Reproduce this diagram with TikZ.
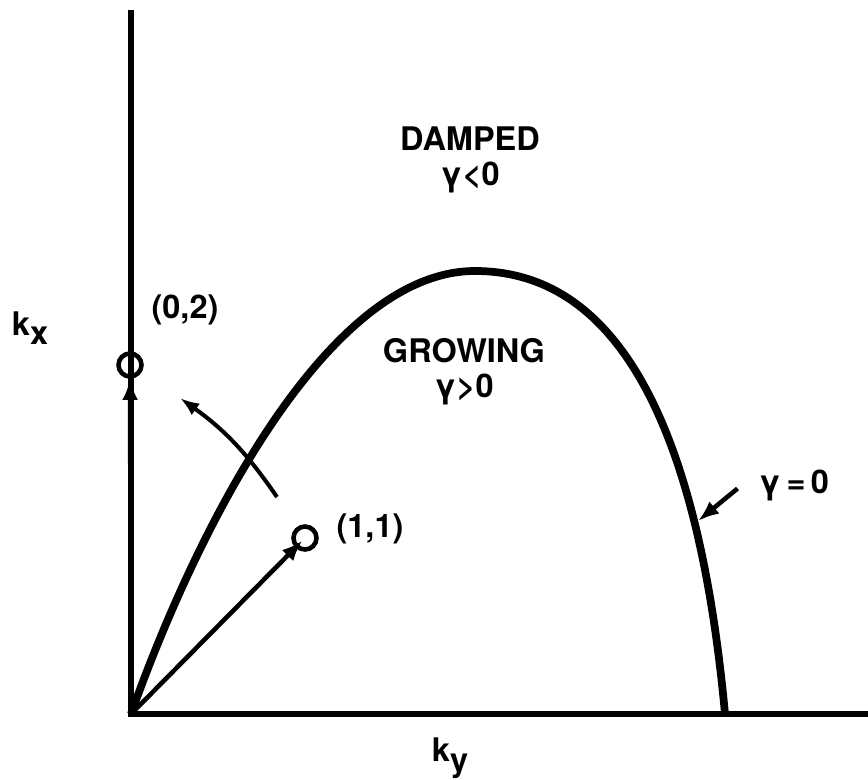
\documentclass[tikz,border=0pt]{standalone}
\usepackage{fontspec}
\setmainfont{TeX Gyre Heros}
\usetikzlibrary{arrows.meta}

\begin{document}
\begin{tikzpicture}[
  x=0.02cm, y=-0.02cm,
  axis/.style={
    line width=3.4pt
  },
  bound/.style={
    line width=4.4pt
  },
  wavevec/.style={
    line width=2.6pt,
    -{Latex[length=12pt,width=9pt]}
  },
  sweep/.style={
    line width=2.3pt,
    -{Latex[length=11pt,width=8pt]}
  },
  mode/.style={
    draw,
    circle,
    line width=2.6pt,
    inner sep=0pt,
    minimum size=0.46cm
  },
  label/.style={
    font=\fontsize{18.5}{20}\selectfont\bfseries,
    align=center,
    inner sep=0pt
  }
]
\useasboundingbox (0,0) rectangle (868,780);

\coordinate (origin) at (131,714);
\coordinate (kxtop) at (131,10);
\coordinate (kyend) at (868,714);
\coordinate (peak) at (475,271);
\coordinate (cutoff) at (725,714);
\coordinate (onbound) at (698,521);
\coordinate (sweeptail) at (277,497);
\coordinate (sweephead) at (180,398);

% axes
\draw[axis] (kxtop) -- (origin) -- (kyend);

% marginal curve
\draw[bound] (origin) .. controls (200,520) and (330,271) .. (peak)
  .. controls (600,271) and (695,390) .. (cutoff);

% modes
\node[mode] (mode02) at (130,365) {};
\node[mode] (mode11) at (305,538) {};
\draw[wavevec] (origin) -- (mode02);
\draw[wavevec, shorten >=2pt] (origin) -- (mode11.center);
\draw[sweep] (sweeptail) to[bend right=10] (sweephead);

% labels
\node[label] (damped) at (470,160) {DAMPED\\γ<0};
\node[label] (growing) at (464,372) {GROWING\\γ>0};
\node[label] (lab02) at (185,310) {(0,2)};
\node[label] (lab11) at (370,529) {(1,1)};
\node[label] (labg0) at (794,485) {γ\,=\,0};
\draw[wavevec] ([xshift=-12pt,yshift=-2pt]labg0.west) -- (onbound);
\node[label] (kx) at (30,328) {k\raisebox{-0.55ex}{x}};
\node[label] (ky) at (450,758) {k\raisebox{-0.55ex}{y}};
\end{tikzpicture}
\end{document}
